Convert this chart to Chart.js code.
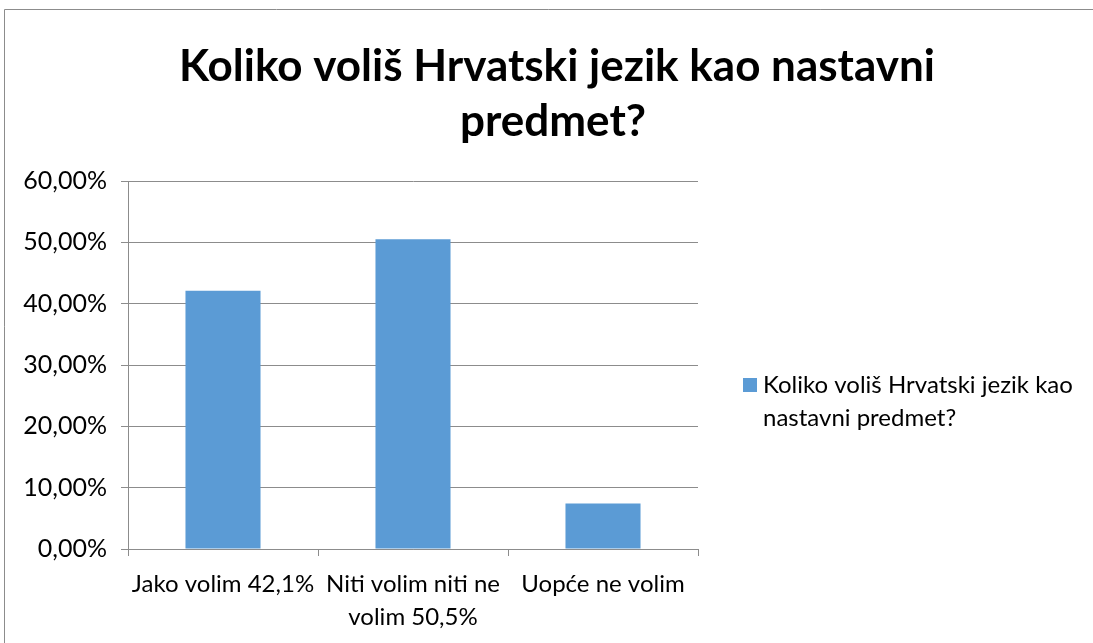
<!DOCTYPE html>
<html>
<head>
<meta charset="utf-8">
<script src="https://cdn.jsdelivr.net/npm/chart.js@4"></script>
<style>
  html, body { margin: 0; padding: 0; background: #fff; }
  #wrap { width: 1093px; height: 643px; position: relative; }
</style>
</head>
<body>
<div id="wrap"><canvas id="myChart"></canvas></div>
<script>
// podaci
const chartTitle = ['Koliko voliš Hrvatski jezik kao nastavni', 'predmet?'];
const categories = [
  'Jako volim 42,1%',
  ['Niti volim niti ne', 'volim 50,5%'],
  'Uopće ne volim'
];
const values = [42.1, 50.5, 7.4];
const seriesName = 'Koliko voliš Hrvatski jezik kao nastavni predmet?';
const legendLines = ['Koliko voliš Hrvatski jezik kao', 'nastavni predmet?'];

const FONT = 'Lato, "Open Sans", sans-serif';

// okvir (gornja i lijeva linija)
const frame = {
  id: 'frame',
  beforeDraw(chart) {
    const { ctx, width, height } = chart;
    ctx.save();
    ctx.strokeStyle = '#8c8c8c';
    ctx.lineWidth = 1;
    ctx.beginPath();
    ctx.moveTo(width, 9.5);
    ctx.lineTo(4.5, 9.5);
    ctx.lineTo(4.5, height);
    ctx.stroke();
    ctx.restore();
  }
};

// naslov centriran po cijeloj širini
const bigTitle = {
  id: 'bigTitle',
  afterDraw(chart) {
    const { ctx } = chart;
    ctx.save();
    ctx.fillStyle = '#000';
    ctx.font = 'bold 44px ' + FONT;
    ctx.textAlign = 'center';
    ctx.textBaseline = 'middle';
    ctx.fillText(chartTitle[0], 557, 67);
    ctx.fillText(chartTitle[1], 553, 122);
    ctx.restore();
  }
};

// legenda desno, u dva reda
const sideLegend = {
  id: 'sideLegend',
  afterDraw(chart) {
    const { ctx } = chart;
    const ds = chart.data.datasets[0];
    const x = 743, y = 385;
    ctx.save();
    ctx.fillStyle = ds.backgroundColor;
    ctx.fillRect(x, y - 7, 14, 14);
    ctx.fillStyle = '#000';
    ctx.font = '24px ' + FONT;
    ctx.textBaseline = 'middle';
    ctx.textAlign = 'left';
    legendLines.forEach((t, i) => ctx.fillText(t, x + 20, y + i * 33));
    ctx.restore();
  }
};

const config = {
  type: 'bar',
  data: {
    labels: categories,
    datasets: [{
      label: seriesName,
      data: values,
      backgroundColor: '#5B9BD5',
      barPercentage: 0.79,
      categoryPercentage: 0.5
    }]
  },
  options: {
    responsive: true,
    maintainAspectRatio: false,
    animation: false,
    layout: { padding: { left: 4, right: 395, top: 181, bottom: 0 } },
    plugins: {
      legend: { display: false },
      tooltip: { enabled: false },
      title: { display: false }
    },
    scales: {
      x: {
        afterFit(axis) { axis.height = 94; },
        grid: { display: true, drawOnChartArea: false, color: '#8c8c8c', tickLength: 7, offset: true },
        border: { color: '#8c8c8c' },
        ticks: {
          color: '#000',
          maxRotation: 0,
          autoSkip: false,
          padding: 11,
          font: { family: FONT, size: 24, lineHeight: 1.4 }
        }
      },
      y: {
        min: 0,
        max: 60,
        afterFit(axis) { axis.width = 124; },
        grid: { color: '#8c8c8c', tickLength: 7 },
        border: { color: '#8c8c8c' },
        ticks: {
          stepSize: 10,
          color: '#000',
          padding: 14,
          font: { family: FONT, size: 25 },
          callback: v => v.toFixed(2).replace('.', ',') + '%'
        }
      }
    }
  },
  plugins: [frame, bigTitle, sideLegend]
};

const myChart = new Chart(document.getElementById('myChart'), config);
</script>
</body>
</html>
